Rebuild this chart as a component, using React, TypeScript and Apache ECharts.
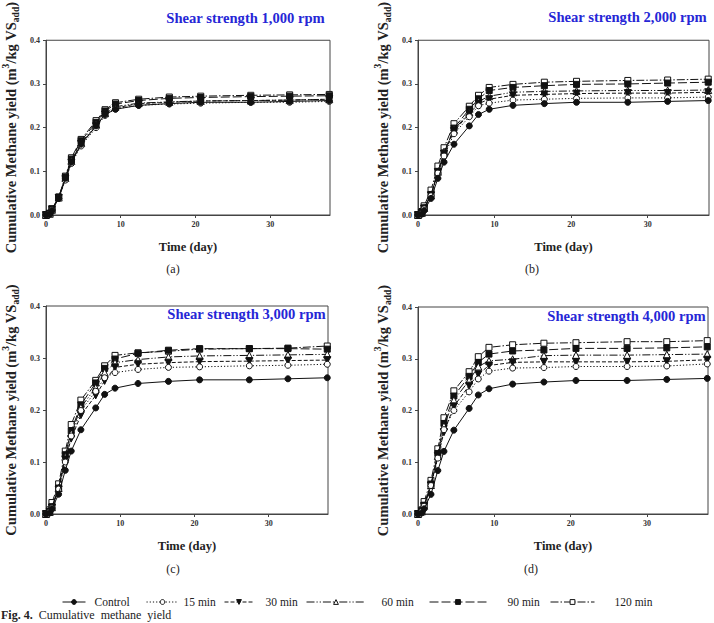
import React, { useEffect, useRef } from 'react';
import * as echarts from 'echarts';

const SERIF = '"Liberation Serif", "Times New Roman", serif';

// Sampling days shared by every run
const days = [0, 0.5, 0.8, 1.7, 2.6, 3.4, 4.7, 6.7, 7.9, 9.3, 12.4, 16.5, 20.7, 27.4, 32.6, 37.9];

const treatments = ['Control', '15 min', '30 min', '60 min', '90 min', '120 min'];
const panelTitles = ['Shear strength 1,000 rpm', 'Shear strength 2,000 rpm', 'Shear strength 3,000 rpm', 'Shear strength 4,000 rpm'];
const panelTags = ['(a)', '(b)', '(c)', '(d)'];
const xTickValues = [0, 10, 20, 30];

// Cumulative methane yield, m3/kg VSadd
const control = [0, 0.002, 0.010, 0.038, 0.084, 0.121, 0.162, 0.204, 0.230, 0.242, 0.251, 0.255, 0.258, 0.258, 0.260, 0.262];

const rpm1000_15 = [0, 0.003, 0.012, 0.038, 0.080, 0.118, 0.158, 0.200, 0.228, 0.243, 0.251, 0.254, 0.256, 0.258, 0.258, 0.260];
const rpm1000_30 = [0, 0.003, 0.013, 0.039, 0.082, 0.120, 0.163, 0.203, 0.230, 0.245, 0.255, 0.258, 0.261, 0.262, 0.263, 0.265];
const rpm1000_60 = [0, 0.003, 0.012, 0.040, 0.085, 0.124, 0.165, 0.207, 0.233, 0.248, 0.256, 0.259, 0.261, 0.262, 0.263, 0.265];
const rpm1000_90 = [0, 0.003, 0.014, 0.041, 0.087, 0.128, 0.170, 0.212, 0.238, 0.254, 0.262, 0.267, 0.269, 0.271, 0.272, 0.273];
const rpm1000_120 = [0, 0.003, 0.012, 0.041, 0.089, 0.131, 0.173, 0.216, 0.241, 0.257, 0.265, 0.270, 0.272, 0.274, 0.275, 0.276];

const rpm2000_15 = [0, 0.004, 0.014, 0.044, 0.096, 0.135, 0.186, 0.225, 0.250, 0.256, 0.263, 0.265, 0.267, 0.268, 0.268, 0.270];
const rpm2000_30 = [0, 0.005, 0.015, 0.045, 0.098, 0.140, 0.192, 0.232, 0.255, 0.265, 0.274, 0.276, 0.278, 0.279, 0.279, 0.281];
const rpm2000_60 = [0, 0.005, 0.016, 0.045, 0.099, 0.145, 0.195, 0.235, 0.260, 0.272, 0.281, 0.283, 0.284, 0.285, 0.285, 0.286];
const rpm2000_90 = [0, 0.005, 0.016, 0.047, 0.100, 0.142, 0.199, 0.242, 0.266, 0.285, 0.292, 0.296, 0.299, 0.300, 0.302, 0.304];
const rpm2000_120 = [0, 0.008, 0.021, 0.057, 0.112, 0.154, 0.209, 0.249, 0.274, 0.292, 0.299, 0.304, 0.306, 0.308, 0.309, 0.311];

const rpm3000_15 = [0, 0.004, 0.012, 0.048, 0.100, 0.150, 0.199, 0.236, 0.262, 0.272, 0.278, 0.282, 0.283, 0.285, 0.286, 0.288];
const rpm3000_30 = [0, 0.004, 0.012, 0.047, 0.105, 0.145, 0.190, 0.228, 0.256, 0.282, 0.288, 0.291, 0.293, 0.294, 0.295, 0.296];
const rpm3000_60 = [0, 0.004, 0.013, 0.050, 0.110, 0.155, 0.205, 0.243, 0.272, 0.291, 0.297, 0.302, 0.304, 0.305, 0.306, 0.307];
const rpm3000_90 = [0, 0.004, 0.014, 0.050, 0.114, 0.160, 0.210, 0.252, 0.280, 0.298, 0.309, 0.315, 0.318, 0.318, 0.318, 0.317];
const rpm3000_120 = [0, 0.008, 0.022, 0.058, 0.121, 0.172, 0.219, 0.257, 0.285, 0.305, 0.310, 0.313, 0.317, 0.318, 0.319, 0.323];

const rpm4000_15 = [0, 0.005, 0.015, 0.055, 0.108, 0.163, 0.200, 0.236, 0.261, 0.276, 0.282, 0.283, 0.285, 0.285, 0.286, 0.290];
const rpm4000_30 = [0, 0.005, 0.015, 0.055, 0.112, 0.158, 0.208, 0.248, 0.270, 0.287, 0.293, 0.294, 0.294, 0.294, 0.295, 0.298];
const rpm4000_60 = [0, 0.005, 0.016, 0.056, 0.112, 0.170, 0.220, 0.258, 0.285, 0.296, 0.299, 0.306, 0.307, 0.307, 0.308, 0.309];
const rpm4000_90 = [0, 0.006, 0.017, 0.058, 0.117, 0.175, 0.228, 0.266, 0.293, 0.309, 0.315, 0.317, 0.320, 0.320, 0.321, 0.323];
const rpm4000_120 = [0, 0.008, 0.024, 0.065, 0.126, 0.186, 0.238, 0.275, 0.304, 0.322, 0.327, 0.330, 0.331, 0.333, 0.333, 0.335];

const panelSeries = [
  [control, rpm1000_15, rpm1000_30, rpm1000_60, rpm1000_90, rpm1000_120],
  [control, rpm2000_15, rpm2000_30, rpm2000_60, rpm2000_90, rpm2000_120],
  [control, rpm3000_15, rpm3000_30, rpm3000_60, rpm3000_90, rpm3000_120],
  [control, rpm4000_15, rpm4000_30, rpm4000_60, rpm4000_90, rpm4000_120],
];

// Plot boxes, title anchors and tag anchors for the 2x2 layout
const gridBoxes = [
  { left: 40, top: 7, width: 290, height: 208 },
  { left: 418, top: 7, width: 291, height: 208 },
  { left: 38, top: 306, width: 290, height: 208 },
  { left: 418, top: 307, width: 290, height: 207 },
];
const titleAnchors = [
  { right: 389, top: 10 },
  { right: 7, top: 9 },
  { right: 388, top: 306.5 },
  { right: 8, top: 308 },
];
const tagAnchors = [
  [173, 269],
  [532, 269],
  [173, 569],
  [531, 569],
];

// Marker and line dash per treatment
const markStyles: any[] = [
  { symbol: 'circle', size: 6, rotate: 0, fill: '#111', dash: 'solid' },
  { symbol: 'circle', size: 6, rotate: 0, fill: '#fff', dash: [1.2, 2] },
  { symbol: 'triangle', size: 7, rotate: 180, fill: '#111', dash: [4, 2] },
  { symbol: 'triangle', size: 7, rotate: 0, fill: '#fff', dash: [8, 2, 1.2, 2, 1.2, 2] },
  { symbol: 'rect', size: 6, rotate: 0, fill: '#111', dash: [9, 3] },
  { symbol: 'rect', size: 6, rotate: 0, fill: '#fff', dash: [8, 2, 1.5, 2] },
];

// Legend row: icon start, icon width, extra gap before text
const legendSlots = [
  { left: 62, width: 23, pad: 4 },
  { left: 146, width: 32, pad: 0 },
  { left: 224, width: 29, pad: 7 },
  { left: 306, width: 59, pad: 11 },
  { left: 429, width: 57, pad: 16 },
  { left: 550, width: 44, pad: 15 },
];

const AXIS_COLOR = '#444';
const TEXT_COLOR = '#222';
const NAME_SIZE = 14.5;

function buildOption() {
  const grid = gridBoxes.map((g) => ({
    ...g,
    show: true,
    borderColor: AXIS_COLOR,
    borderWidth: 1,
    backgroundColor: '#fff',
    containLabel: false,
  }));

  const xAxis = gridBoxes.map((_, p) => ({
    gridIndex: p,
    type: 'value',
    min: 0,
    max: 38,
    interval: 10,
    axisLine: { show: true, onZero: false, lineStyle: { color: AXIS_COLOR, width: 1 } },
    axisTick: { show: true, inside: false, length: 3, customValues: xTickValues, lineStyle: { color: AXIS_COLOR } },
    axisLabel: {
      customValues: xTickValues,
      formatter: (v: number) => (v % 10 === 0 ? String(v) : ''),
      fontFamily: SERIF,
      fontWeight: 'bold',
      fontSize: 8,
      color: '#333',
      margin: 5,
    },
    splitLine: { show: false },
    name: 'Time (day)',
    nameLocation: 'middle',
    nameGap: 25,
    nameTextStyle: { fontFamily: SERIF, fontWeight: 'bold', fontSize: 12.5, color: TEXT_COLOR },
  }));

  const yAxis = gridBoxes.map((_, p) => ({
    gridIndex: p,
    type: 'value',
    min: 0,
    max: 0.4,
    interval: 0.1,
    axisLine: { show: true, onZero: false, lineStyle: { color: AXIS_COLOR, width: 1 } },
    axisTick: { show: true, inside: false, length: 3, lineStyle: { color: AXIS_COLOR } },
    axisLabel: {
      formatter: (v: number) => v.toFixed(1),
      fontFamily: SERIF,
      fontWeight: 'bold',
      fontSize: 8,
      color: '#333',
      margin: 6,
    },
    splitLine: { show: false },
    name: '{n|Cumulative Methane yield (m}{sup|3}{n|/kg VS}{sub|add}{n|)}',
    nameLocation: 'middle',
    nameRotate: 90,
    nameGap: 25,
    nameTextStyle: {
      fontFamily: SERIF,
      fontWeight: 'bold',
      fontSize: NAME_SIZE,
      color: TEXT_COLOR,
      rich: {
        n: { fontFamily: SERIF, fontWeight: 'bold', fontSize: NAME_SIZE, color: TEXT_COLOR, lineHeight: 20, verticalAlign: 'middle' },
        sup: { fontFamily: SERIF, fontWeight: 'bold', fontSize: 9.5, color: TEXT_COLOR, lineHeight: 9, verticalAlign: 'top' },
        sub: { fontFamily: SERIF, fontWeight: 'bold', fontSize: 9.5, color: TEXT_COLOR, lineHeight: 9, verticalAlign: 'bottom' },
      },
    },
  }));

  const series: any[] = [];
  panelSeries.forEach((runs, p) => {
    runs.forEach((vals, k) => {
      const m = markStyles[k];
      series.push({
        type: 'line',
        name: treatments[k],
        xAxisIndex: p,
        yAxisIndex: p,
        data: days.map((d, i) => [d, vals[i]]),
        symbol: m.symbol,
        symbolSize: m.size,
        symbolRotate: m.rotate,
        showSymbol: true,
        showAllSymbol: true,
        silent: true,
        z: 2 + (5 - k),
        lineStyle: { color: '#111', width: 1, type: m.dash },
        itemStyle: { color: m.fill, borderColor: '#111', borderWidth: 1 },
        emphasis: { disabled: true },
      });
    });
  });

  const title = panelTitles.map((t, p) => ({
    text: t,
    ...titleAnchors[p],
    padding: 0,
    textStyle: { fontFamily: SERIF, fontWeight: 'bold', fontSize: 14.6, color: '#2626d6' },
  }));

  const legend = treatments.map((t, k) => ({
    data: [t],
    left: legendSlots[k].left,
    top: 596,
    padding: 0,
    itemWidth: legendSlots[k].width,
    itemHeight: 6,
    selectedMode: false,
    lineStyle: { width: 1 },
    itemStyle: { borderWidth: 1 },
    textStyle: {
      fontFamily: SERIF,
      fontSize: 11.5,
      color: TEXT_COLOR,
      padding: [0, 0, 0, legendSlots[k].pad],
    },
  }));

  const graphic: any[] = panelTags.map((tag, p) => ({
    type: 'text',
    x: tagAnchors[p][0],
    y: tagAnchors[p][1],
    silent: true,
    style: {
      text: tag,
      fontFamily: SERIF,
      fontSize: 12,
      fill: TEXT_COLOR,
      align: 'center',
      verticalAlign: 'middle',
    },
  }));
  graphic.push({
    type: 'text',
    x: 1,
    y: 615,
    silent: true,
    style: {
      text: '{b|Fig. 4.}  Cumulative  methane  yield',
      fontFamily: SERIF,
      fontSize: 12,
      fill: TEXT_COLOR,
      align: 'left',
      verticalAlign: 'middle',
      rich: {
        b: { fontFamily: SERIF, fontSize: 12, fontWeight: 'bold', fill: TEXT_COLOR },
      },
    },
  });

  return {
    animation: false,
    backgroundColor: '#fff',
    title,
    legend,
    grid,
    xAxis,
    yAxis,
    series,
    graphic,
  };
}

export default function App() {
  const ref = useRef<HTMLDivElement>(null);

  useEffect(() => {
    if (!ref.current) return;
    const chart = echarts.init(ref.current, undefined, { renderer: 'svg' });
    chart.setOption(buildOption() as any);
    return () => chart.dispose();
  }, []);

  return (
    <div
      ref={ref}
      style={{ position: 'absolute', left: 0, top: 0, width: 714, height: 623, background: '#fff' }}
    />
  );
}
